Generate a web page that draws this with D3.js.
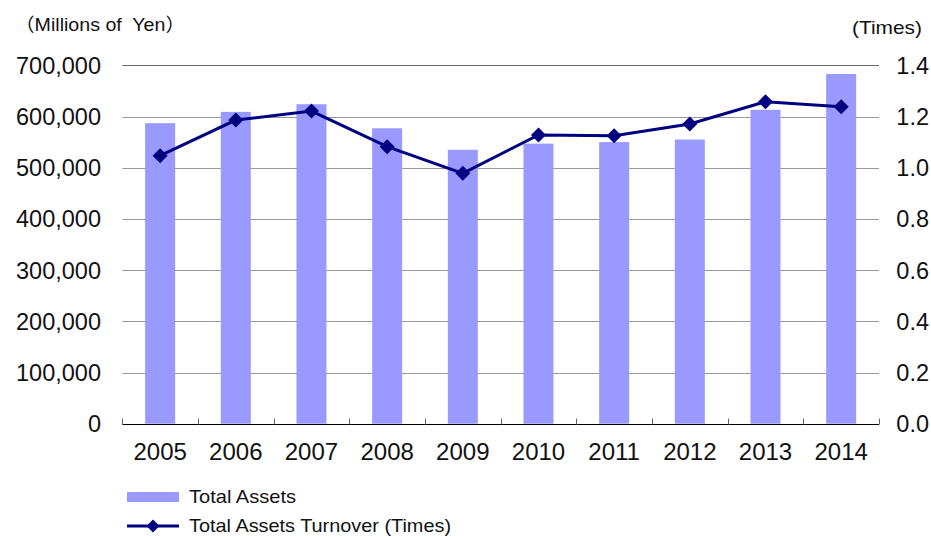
<!DOCTYPE html>
<html><head><meta charset="utf-8">
<script src="https://cdn.jsdelivr.net/npm/d3@7/dist/d3.min.js"></script>
<style>body{margin:0;background:#fff}svg{display:block}text{font-family:"Liberation Sans",Arial,"Noto Sans CJK JP",sans-serif;fill:#111}</style>
</head><body><svg id="c" width="931" height="536"></svg>
<script>
const years = ["2005","2006","2007","2008","2009","2010","2011","2012","2013","2014"];
const totalAssets = [587000,609000,624000,577000,535000,547000,550000,555000,613000,683000];
const turnover = [1.047,1.186,1.221,1.082,0.978,1.128,1.125,1.171,1.258,1.238];
const leftTicks = [0,100000,200000,300000,400000,500000,600000,700000];
const rightTicks = [0,0.2,0.4,0.6,0.8,1.0,1.2,1.4];

const svg = d3.select("#c");
const L = 122.3, R = 879, T = 65.3, B = 423.7;
const xb = d3.scaleBand().domain(years).range([L,R]);
const y = d3.scaleLinear().domain([0,700000]).range([B,T]);
const y2 = d3.scaleLinear().domain([0,1.4]).range([B,T]);

// gridlines
svg.append("g").selectAll("line").data(leftTicks.filter(d=>d>0)).join("line")
  .attr("x1",L).attr("x2",R).attr("y1",d=>Math.round(y(d))+0.5).attr("y2",d=>Math.round(y(d))+0.5)
  .attr("stroke",d=>d===700000?"#666":"#999").attr("stroke-width",1);

// bars
const bw = 30;
svg.append("g").selectAll("rect").data(years).join("rect")
  .attr("x",d=>xb(d)+xb.bandwidth()/2-bw/2).attr("width",bw)
  .attr("y",(d,i)=>y(totalAssets[i])).attr("height",(d,i)=>B-y(totalAssets[i]))
  .attr("fill","#9999FF");

// x axis
const xAxis = svg.append("g").attr("transform",`translate(0,${Math.round(B)+0.5})`);
xAxis.append("line").attr("x1",L).attr("x2",R).attr("stroke","#000").attr("stroke-width",1.2);
xAxis.selectAll("line.tk").data(years.concat(["end"])).join("line").attr("class","tk")
  .attr("x1",(d,i)=>Math.round(L+i*xb.bandwidth())+0.5).attr("x2",(d,i)=>Math.round(L+i*xb.bandwidth())+0.5)
  .attr("y1",0).attr("y2",-6).attr("stroke","#666");
xAxis.selectAll("text").data(years).join("text")
  .attr("x",d=>xb(d)+xb.bandwidth()/2).attr("y",35).attr("text-anchor","middle")
  .attr("font-size",24).text(d=>d);

// left labels
const fmt = d3.format(",");
svg.append("g").selectAll("text").data(leftTicks).join("text")
  .attr("x",101).attr("y",d=>y(d)).attr("dy","0.36em").attr("text-anchor","end")
  .attr("font-size",23.5).text(d=>fmt(d));
// right labels
svg.append("g").selectAll("text").data(rightTicks).join("text")
  .attr("x",929).attr("y",d=>y2(d)).attr("dy","0.36em").attr("text-anchor","end")
  .attr("font-size",23.5).text(d=>d.toFixed(1));

svg.append("text").attr("x",15).attr("y",31).attr("font-size",18.5).style("white-space","pre")
  .attr("textLength",170).attr("lengthAdjust","spacingAndGlyphs").text("（Millions of  Yen）");
svg.append("text").attr("x",852).attr("y",34).attr("font-size",18.5)
  .attr("textLength",70).attr("lengthAdjust","spacingAndGlyphs").text("(Times)");

// line
const cx = d=>xb(d)+xb.bandwidth()/2;
const line = d3.line().x((d,i)=>cx(years[i])).y(d=>y2(d));
svg.append("path").datum(turnover).attr("d",line).attr("fill","none").attr("stroke","#000080").attr("stroke-width",3);
const diamond = (cxv,cyv,r)=>`M${cxv},${cyv-r}L${cxv+r},${cyv}L${cxv},${cyv+r}L${cxv-r},${cyv}Z`;
svg.append("g").selectAll("path").data(turnover).join("path")
  .attr("d",(d,i)=>diamond(cx(years[i]),y2(d),7.5)).attr("fill","#000080");

// legend
svg.append("rect").attr("x",127).attr("y",492).attr("width",52).attr("height",10).attr("fill","#9999FF");
svg.append("text").attr("x",189).attr("y",503).attr("font-size",18.5)
  .attr("textLength",107).attr("lengthAdjust","spacingAndGlyphs").text("Total Assets");
svg.append("line").attr("x1",127).attr("x2",179).attr("y1",526).attr("y2",526).attr("stroke","#000080").attr("stroke-width",3);
svg.append("path").attr("d",diamond(153,526,6.5)).attr("fill","#000080");
svg.append("text").attr("x",189).attr("y",532).attr("font-size",18.5)
  .attr("textLength",262).attr("lengthAdjust","spacingAndGlyphs").text("Total Assets Turnover (Times)");
</script></body></html>
